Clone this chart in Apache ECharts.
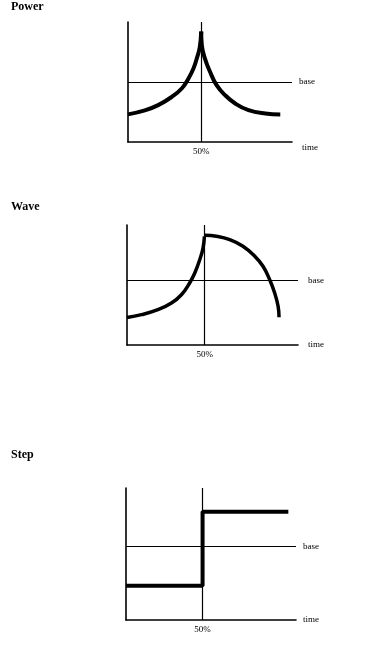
<!DOCTYPE html>
<html>
<head>
<meta charset="utf-8">
<script src="https://cdn.jsdelivr.net/npm/echarts@6/dist/echarts.min.js"></script>
<style>html,body{margin:0;padding:0;background:#fff}#c{width:369px;height:650px}</style>
</head>
<body>
<div id="c"></div>
<script>
// ---- data ----
const panelTitles = ['Power', 'Wave', 'Step'];
const midLabel = '50%';
const baseLabel = 'base';
const timeLabel = 'time';
const midX = 50;
const baseValues = [50, 54, 55.5];
const xMax = [112, 110, 111];
const yMax = [100, 100, 100];

const powerLeft = [[0, 23], [11.5, 26.3], [20.6, 30.7], [29.8, 37.5], [36.7, 44.6], [41.3, 53], [44.7, 61.3], [47, 69.7], [49, 79], [50, 92]];
const powerRight = [[50, 92], [50.4, 80.8], [52.5, 69.7], [56, 58.5], [60.5, 47.4], [66.3, 39], [73.2, 32.1], [82.3, 26.5], [93.8, 23.7], [104, 22.9]];
const waveLeft = [[0, 23], [9.3, 25.3], [19.9, 29.4], [28.6, 35], [35, 41.9], [40.3, 51.7], [43.6, 60], [46.8, 71.1], [48.9, 80.8], [49.8, 90.6]];
const waveRight = [[50, 91.4], [57.5, 90.6], [66.1, 87.8], [74.6, 82.3], [82.2, 74], [87.5, 65.6], [91.8, 54.4], [95, 43.3], [97.2, 32.3], [97.8, 23.1]];
const stepLine = [[0, 26], [50, 26], [50, 82], [106, 82]];

// ---- layout ----
const FONT = 'Liberation Serif';
const grids = [
  { left: 128, top: 22, width: 164, height: 120 },
  { left: 127, top: 225, width: 171, height: 120 },
  { left: 126, top: 488, width: 170, height: 132 }
];
const titleTops = [1, 201, 449];
const nameGaps = [10, 10, 7];
const baseDist = [7, 10, 7];
const timeVA = ['top', 'middle', 'middle'];

const chart = echarts.init(document.getElementById('c'), null, { renderer: 'canvas' });

const xAxis = grids.map((g, i) => ({
  type: 'value', gridIndex: i, min: 0, max: xMax[i], interval: 50,
  name: timeLabel, nameLocation: 'end', nameGap: nameGaps[i],
  nameTextStyle: { fontFamily: FONT, fontSize: 9, color: '#000', verticalAlign: timeVA[i], padding: timeVA[i] === 'top' ? [1, 0, 0, 0] : 0 },
  axisLine: { show: true, onZero: false, lineStyle: { color: '#000', width: 1.6 } },
  axisTick: { show: false },
  splitLine: { show: false },
  axisLabel: {
    show: true, margin: 5, fontFamily: FONT, fontSize: 9, color: '#000',
    showMinLabel: true, showMaxLabel: false,
    formatter: v => (v === midX ? midLabel : '')
  }
}));

const yAxis = grids.map((g, i) => ({
  type: 'value', gridIndex: i, min: 0, max: yMax[i],
  axisLine: { show: true, onZero: false, lineStyle: { color: '#000', width: 1.6 } },
  axisTick: { show: false },
  splitLine: { show: false },
  axisLabel: { show: false }
}));

function guides(i) {
  return {
    silent: true,
    symbol: ['none', 'none'],
    animation: false,
    lineStyle: { color: '#000', type: 'solid', width: 1.2 },
    data: [
      { yAxis: baseValues[i], label: { show: true, position: 'end', distance: baseDist[i], formatter: baseLabel, fontFamily: FONT, fontSize: 9, color: '#000' } },
      { xAxis: midX, label: { show: false } }
    ]
  };
}

function curve(data, i, opts) {
  return Object.assign({
    type: 'line', xAxisIndex: i, yAxisIndex: i, data: data,
    showSymbol: false, symbol: 'none', silent: true,
    lineStyle: { color: '#000', width: 4 },
    z: 3
  }, opts || {});
}

const series = [
  curve(powerLeft, 0, { smooth: 0.45, markLine: guides(0) }),
  curve(powerRight, 0, { smooth: 0.45 }),
  curve(waveLeft, 1, { smooth: 0.45, lineStyle: { color: '#000', width: 3.5 }, markLine: guides(1) }),
  curve(waveRight, 1, { smooth: 0.45, lineStyle: { color: '#000', width: 3.5 } }),
  curve(stepLine, 2, { smooth: false, markLine: guides(2) })
];

chart.setOption({
  animation: false,
  backgroundColor: '#fff',
  title: panelTitles.map((t, i) => ({
    text: t, left: 11, top: titleTops[i], padding: 0,
    textStyle: { fontFamily: FONT, fontSize: 12, fontWeight: 'bold', color: '#000' }
  })),
  grid: grids,
  xAxis: xAxis,
  yAxis: yAxis,
  series: series
});
</script>
</body>
</html>
